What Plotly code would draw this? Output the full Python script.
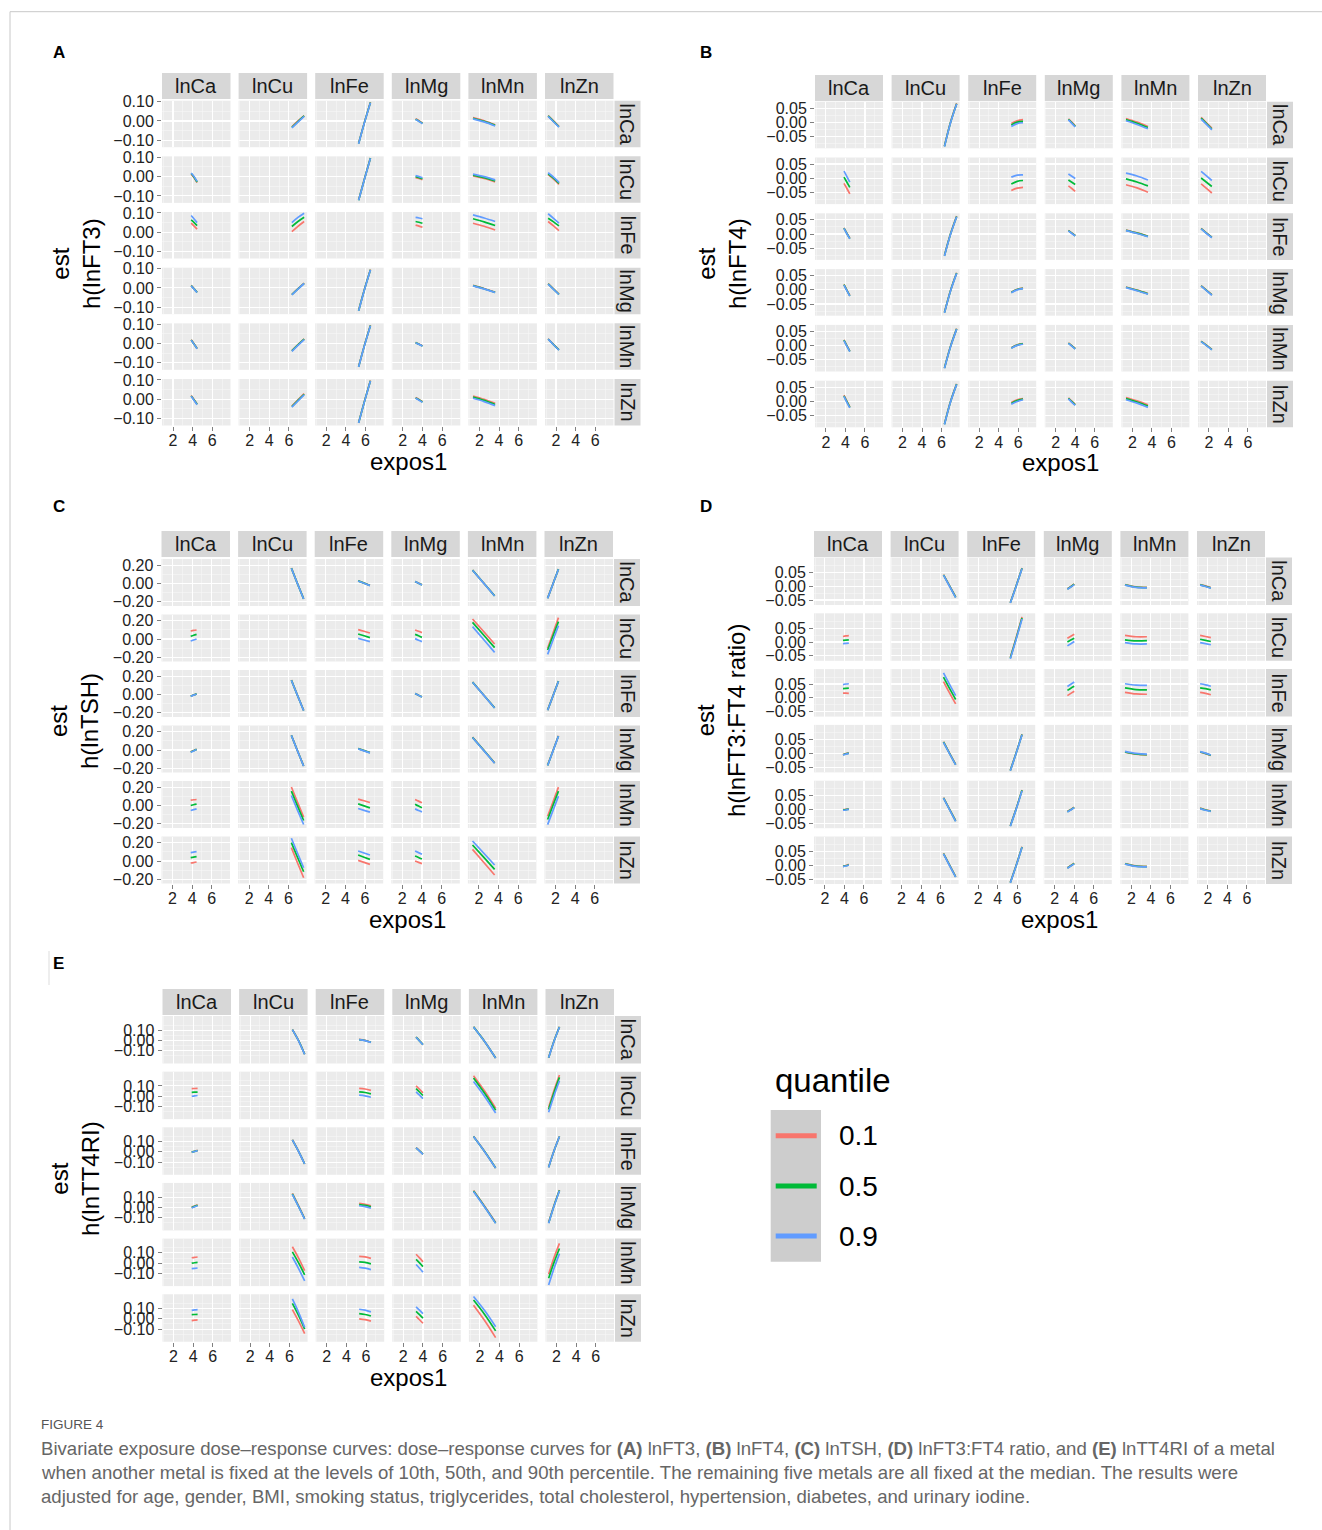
import plotly.graph_objects as go

W, H = 1322, 1530

metals = ["lnCa", "lnCu", "lnFe", "lnMg", "lnMn", "lnZn"]
quantiles = ["0.1", "0.5", "0.9"]
quantile_colors = ["#F8766D", "#00BA38", "#619CFF"]

# expos1 grid (start, middle, end) of each exposure metal (columns)
expos1_lnCa = [3.85, 4.15, 4.45]
expos1_lnCu = [6.30, 6.92, 7.55]
expos1_lnFe = [5.30, 5.90, 6.50]
expos1_lnMg = [3.30, 3.65, 4.00]
expos1_lnMn = [1.35, 2.48, 3.60]
expos1_lnZn = [1.20, 1.75, 2.30]
expos1_grid = [expos1_lnCa, expos1_lnCu, expos1_lnFe, expos1_lnMg, expos1_lnMn, expos1_lnZn]

x_tick_vals = [2, 4, 6]
x_tick_text = ["2", "4", "6"]
x_minor_vals = [1, 3, 5, 7]

# Each row = metal fixed at quantile (expos2); each cell = [q0.1, q0.5, q0.9] curves, each [start, mid, end]
# ---------------- A: h(lnFT3) ----------------
FT3_lnCa = [None,
            [[-0.030, 0.000, 0.028], [-0.033, -0.003, 0.026], [-0.036, -0.006, 0.024]],
            [[-0.116, -0.005, 0.097], [-0.117, -0.006, 0.096], [-0.118, -0.007, 0.095]],
            [[0.011, 0.001, -0.010], [0.009, -0.001, -0.012], [0.007, -0.003, -0.014]],
            [[0.017, 0.001, -0.020], [0.014, -0.002, -0.023], [0.011, -0.005, -0.026]],
            [[0.028, 0.000, -0.028], [0.026, -0.002, -0.030], [0.024, -0.004, -0.032]]]
FT3_lnCu = [[[0.013, -0.006, -0.031], [0.016, -0.003, -0.028], [0.019, 0.000, -0.025]],
            None,
            [[-0.121, -0.010, 0.097], [-0.122, -0.011, 0.096], [-0.123, -0.012, 0.095]],
            [[-0.005, -0.010, -0.016], [0.000, -0.005, -0.011], [0.005, 0.000, -0.006]],
            [[0.003, -0.010, -0.027], [0.008, -0.005, -0.022], [0.013, 0.000, -0.017]],
            [[0.010, -0.013, -0.040], [0.015, -0.008, -0.035], [0.020, -0.003, -0.030]]]
FT3_lnFe = [[[0.047, 0.032, 0.016], [0.064, 0.050, 0.035], [0.087, 0.069, 0.050]],
            [[0.003, 0.031, 0.056], [0.030, 0.056, 0.078], [0.050, 0.077, 0.099]],
            None,
            [[0.037, 0.032, 0.026], [0.056, 0.052, 0.047], [0.077, 0.074, 0.070]],
            [[0.047, 0.031, 0.012], [0.070, 0.054, 0.035], [0.090, 0.074, 0.056]],
            [[0.056, 0.033, 0.009], [0.073, 0.054, 0.033], [0.096, 0.072, 0.047]]]
FT3_lnMg = [[[0.013, -0.004, -0.022], [0.012, -0.005, -0.023], [0.011, -0.006, -0.024]],
            [[-0.034, -0.004, 0.025], [-0.035, -0.005, 0.024], [-0.036, -0.006, 0.023]],
            [[-0.117, -0.006, 0.095], [-0.118, -0.007, 0.094], [-0.119, -0.008, 0.093]],
            None,
            [[0.013, -0.003, -0.022], [0.012, -0.004, -0.023], [0.011, -0.005, -0.024]],
            [[0.022, -0.005, -0.032], [0.021, -0.006, -0.033], [0.020, -0.007, -0.034]]]
FT3_lnMn = [[[0.020, -0.002, -0.025], [0.019, -0.003, -0.026], [0.018, -0.004, -0.027]],
            [[-0.036, -0.005, 0.025], [-0.038, -0.007, 0.023], [-0.040, -0.009, 0.021]],
            [[-0.119, -0.007, 0.095], [-0.120, -0.008, 0.094], [-0.121, -0.009, 0.093]],
            [[0.006, -0.002, -0.011], [0.005, -0.003, -0.012], [0.004, -0.004, -0.013]],
            None,
            [[0.025, -0.004, -0.032], [0.024, -0.005, -0.033], [0.023, -0.006, -0.034]]]
FT3_lnZn = [[[0.019, -0.002, -0.024], [0.017, -0.004, -0.026], [0.015, -0.006, -0.028]],
            [[-0.035, -0.003, 0.029], [-0.038, -0.006, 0.026], [-0.041, -0.009, 0.023]],
            [[-0.121, -0.009, 0.097], [-0.122, -0.010, 0.096], [-0.123, -0.011, 0.095]],
            [[0.009, -0.001, -0.012], [0.007, -0.003, -0.014], [0.005, -0.005, -0.016]],
            [[0.017, 0.000, -0.021], [0.011, -0.006, -0.027], [0.005, -0.012, -0.033]],
            None]

# ---------------- B: h(lnFT4) ----------------
FT4_lnCa = [None,
            [[-0.083, 0.001, 0.067], [-0.084, 0.000, 0.066], [-0.085, -0.001, 0.065]],
            [[-0.004, 0.006, 0.010], [-0.009, 0.001, 0.004], [-0.014, -0.004, -0.001]],
            [[0.013, 0.001, -0.012], [0.011, -0.001, -0.014], [0.009, -0.003, -0.016]],
            [[0.014, 0.001, -0.014], [0.010, -0.003, -0.018], [0.006, -0.007, -0.022]],
            [[0.018, -0.001, -0.020], [0.015, -0.004, -0.023], [0.012, -0.007, -0.026]]]
FT4_lnCu = [[[-0.018, -0.036, -0.055], [0.004, -0.014, -0.032], [0.025, 0.006, -0.014]],
            None,
            [[-0.043, -0.035, -0.032], [-0.020, -0.011, -0.008], [0.004, 0.011, 0.012]],
            [[-0.027, -0.036, -0.046], [-0.006, -0.014, -0.022], [0.015, 0.007, -0.001]],
            [[-0.023, -0.034, -0.049], [-0.002, -0.013, -0.027], [0.018, 0.008, -0.006]],
            [[-0.020, -0.036, -0.052], [0.001, -0.014, -0.029], [0.024, 0.008, -0.008]]]
FT4_lnFe = [[[0.022, 0.003, -0.015], [0.021, 0.002, -0.016], [0.020, 0.001, -0.017]],
            [[-0.075, 0.001, 0.063], [-0.076, 0.000, 0.062], [-0.077, -0.001, 0.061]],
            None,
            [[0.013, 0.004, -0.005], [0.012, 0.003, -0.006], [0.011, 0.002, -0.007]],
            [[0.014, 0.004, -0.007], [0.013, 0.003, -0.008], [0.012, 0.002, -0.009]],
            [[0.020, 0.004, -0.011], [0.019, 0.003, -0.012], [0.018, 0.002, -0.013]]]
FT4_lnMg = [[[0.019, -0.001, -0.020], [0.018, -0.002, -0.021], [0.017, -0.003, -0.022]],
            [[-0.079, -0.002, 0.060], [-0.080, -0.003, 0.059], [-0.081, -0.004, 0.058]],
            [[-0.008, 0.002, 0.006], [-0.009, 0.001, 0.005], [-0.010, 0.000, 0.004]],
            None,
            [[0.010, -0.001, -0.013], [0.009, -0.002, -0.014], [0.008, -0.003, -0.015]],
            [[0.015, -0.001, -0.017], [0.014, -0.002, -0.018], [0.013, -0.003, -0.019]]]
FT4_lnMn = [[[0.020, 0.000, -0.019], [0.019, -0.001, -0.020], [0.018, -0.002, -0.021]],
            [[-0.078, -0.002, 0.060], [-0.079, -0.003, 0.059], [-0.080, -0.004, 0.058]],
            [[-0.007, 0.003, 0.007], [-0.008, 0.002, 0.006], [-0.009, 0.001, 0.005]],
            [[0.010, 0.000, -0.010], [0.009, -0.001, -0.011], [0.008, -0.002, -0.012]],
            None,
            [[0.016, 0.002, -0.013], [0.015, 0.001, -0.014], [0.014, 0.000, -0.015]]]
FT4_lnZn = [[[0.022, 0.001, -0.019], [0.020, -0.001, -0.021], [0.018, -0.003, -0.023]],
            [[-0.079, 0.000, 0.062], [-0.080, -0.001, 0.061], [-0.081, -0.002, 0.060]],
            [[-0.004, 0.006, 0.010], [-0.007, 0.003, 0.008], [-0.010, 0.000, 0.006]],
            [[0.013, 0.001, -0.010], [0.011, -0.001, -0.012], [0.009, -0.003, -0.014]],
            [[0.014, 0.002, -0.012], [0.010, -0.002, -0.016], [0.006, -0.006, -0.021]],
            None]

# ---------------- C: h(lnTSH) ----------------
TSH_lnCa = [None,
            [[0.170, 0.000, -0.168], [0.169, -0.001, -0.169], [0.168, -0.002, -0.170]],
            [[0.030, 0.005, -0.021], [0.029, 0.004, -0.022], [0.028, 0.003, -0.023]],
            [[0.023, 0.005, -0.014], [0.022, 0.004, -0.015], [0.021, 0.003, -0.016]],
            [[0.148, 0.006, -0.135], [0.147, 0.005, -0.136], [0.146, 0.004, -0.137]],
            [[-0.161, -0.001, 0.159], [-0.162, -0.002, 0.158], [-0.163, -0.003, 0.157]]]
TSH_lnCu = [[[0.088, 0.094, 0.099], [0.030, 0.041, 0.051], [-0.022, -0.011, 0.000]],
            None,
            [[0.103, 0.085, 0.066], [0.055, 0.035, 0.015], [0.007, -0.011, -0.029]],
            [[0.099, 0.085, 0.070], [0.051, 0.035, 0.018], [0.004, -0.013, -0.029]],
            [[0.220, 0.083, -0.055], [0.183, 0.044, -0.095], [0.136, -0.006, -0.147]],
            [[-0.103, 0.066, 0.235], [-0.121, 0.035, 0.191], [-0.169, -0.011, 0.147]]]
TSH_lnFe = [[[-0.017, -0.005, 0.008], [-0.018, -0.006, 0.007], [-0.019, -0.007, 0.006]],
            [[0.159, -0.008, -0.175], [0.158, -0.009, -0.176], [0.157, -0.010, -0.177]],
            None,
            [[0.012, -0.007, -0.025], [0.011, -0.008, -0.026], [0.010, -0.009, -0.027]],
            [[0.137, -0.005, -0.146], [0.136, -0.006, -0.147], [0.135, -0.007, -0.148]],
            [[-0.171, -0.012, 0.148], [-0.172, -0.013, 0.147], [-0.173, -0.014, 0.146]]]
TSH_lnMg = [[[-0.020, -0.006, 0.009], [-0.022, -0.008, 0.007], [-0.024, -0.010, 0.005]],
            [[0.162, -0.007, -0.175], [0.161, -0.008, -0.176], [0.160, -0.009, -0.177]],
            [[0.017, -0.005, -0.027], [0.015, -0.007, -0.029], [0.013, -0.009, -0.031]],
            None,
            [[0.141, 0.000, -0.141], [0.139, -0.002, -0.143], [0.137, -0.004, -0.145]],
            [[-0.167, -0.006, 0.156], [-0.169, -0.008, 0.154], [-0.171, -0.010, 0.152]]]
TSH_lnMn = [[[0.059, 0.063, 0.066], [0.000, 0.008, 0.015], [-0.055, -0.046, -0.037]],
            [[0.203, 0.038, -0.128], [0.158, -0.004, -0.165], [0.110, -0.050, -0.209]],
            [[0.070, 0.052, 0.033], [0.018, -0.004, -0.026], [-0.033, -0.053, -0.073]],
            [[0.066, 0.048, 0.029], [0.015, -0.006, -0.026], [-0.037, -0.054, -0.070]],
            None,
            [[-0.118, 0.042, 0.202], [-0.154, 0.002, 0.158], [-0.210, -0.054, 0.103]]]
TSH_lnZn = [[[-0.022, -0.017, -0.011], [0.037, 0.043, 0.048], [0.092, 0.098, 0.103]],
            [[0.147, -0.019, -0.184], [0.202, 0.042, -0.118], [0.250, 0.088, -0.074]],
            [[0.007, -0.015, -0.037], [0.066, 0.042, 0.018], [0.110, 0.088, 0.066]],
            [[0.000, -0.015, -0.029], [0.055, 0.039, 0.022], [0.110, 0.092, 0.074]],
            [[0.128, -0.013, -0.154], [0.176, 0.042, -0.092], [0.220, 0.088, -0.044]],
            None]

# ---------------- D: h(lnFT3:FT4 ratio) ----------------
RATIO_lnCa = [None,
              [[0.042, 0.002, -0.039], [0.041, 0.001, -0.040], [0.040, 0.000, -0.041]],
              [[-0.059, 0.002, 0.066], [-0.060, 0.001, 0.065], [-0.061, 0.000, 0.064]],
              [[-0.009, -0.001, 0.008], [-0.010, -0.002, 0.007], [-0.011, -0.003, 0.006]],
              [[0.006, -0.002, -0.004], [0.005, -0.003, -0.005], [0.004, -0.004, -0.006]],
              [[0.006, 0.001, -0.005], [0.005, 0.000, -0.006], [0.004, -0.001, -0.007]]]
RATIO_lnCu = [[[0.020, 0.022, 0.023], [0.006, 0.007, 0.008], [-0.006, -0.005, -0.004]],
              None,
              [[-0.056, 0.016, 0.091], [-0.058, 0.013, 0.087], [-0.061, 0.010, 0.083]],
              [[0.014, 0.021, 0.028], [0.000, 0.007, 0.014], [-0.014, -0.006, 0.002]],
              [[0.024, 0.019, 0.019], [0.008, 0.004, 0.005], [-0.002, -0.007, -0.007]],
              [[0.024, 0.020, 0.016], [0.010, 0.006, 0.002], [-0.002, -0.006, -0.010]]]
RATIO_lnFe = [[[0.017, 0.017, 0.016], [0.033, 0.034, 0.035], [0.048, 0.050, 0.051]],
              [[0.059, 0.018, -0.022], [0.075, 0.034, -0.006], [0.090, 0.049, 0.008]],
              None,
              [[0.008, 0.016, 0.024], [0.027, 0.035, 0.042], [0.041, 0.049, 0.057]],
              [[0.020, 0.014, 0.013], [0.036, 0.030, 0.029], [0.051, 0.046, 0.045]],
              [[0.020, 0.016, 0.011], [0.036, 0.033, 0.029], [0.051, 0.047, 0.042]]]
RATIO_lnMg = [[[-0.003, 0.000, 0.003], [-0.004, -0.001, 0.002], [-0.005, -0.002, 0.001]],
              [[0.043, 0.002, -0.039], [0.042, 0.001, -0.040], [0.041, 0.000, -0.041]],
              [[-0.060, 0.003, 0.070], [-0.061, 0.002, 0.069], [-0.062, 0.001, 0.068]],
              None,
              [[0.005, -0.002, -0.005], [0.006, -0.001, -0.004], [0.008, 0.001, -0.002]],
              [[0.005, 0.000, -0.007], [0.006, 0.001, -0.006], [0.007, 0.002, -0.005]]]
RATIO_lnMn = [[[-0.001, 0.000, 0.002], [-0.002, -0.001, 0.001], [-0.003, -0.002, 0.000]],
              [[0.043, 0.001, -0.041], [0.042, 0.000, -0.042], [0.041, -0.001, -0.043]],
              [[-0.059, 0.003, 0.070], [-0.060, 0.002, 0.069], [-0.061, 0.001, 0.068]],
              [[-0.007, 0.000, 0.008], [-0.008, -0.001, 0.007], [-0.009, -0.002, 0.006]],
              None,
              [[0.005, -0.001, -0.005], [0.004, -0.002, -0.006], [0.003, -0.003, -0.007]]]
RATIO_lnZn = [[[-0.003, -0.001, 0.003], [-0.004, -0.002, 0.002], [-0.005, -0.003, 0.001]],
              [[0.043, 0.001, -0.041], [0.042, 0.000, -0.042], [0.041, -0.001, -0.043]],
              [[-0.062, 0.000, 0.067], [-0.063, -0.001, 0.066], [-0.064, -0.002, 0.065]],
              [[-0.009, -0.001, 0.007], [-0.010, -0.002, 0.006], [-0.011, -0.003, 0.005]],
              [[0.006, -0.002, -0.004], [0.005, -0.003, -0.005], [0.004, -0.004, -0.006]],
              None]

# ---------------- E: h(lnTT4RI) ----------------
TT4RI_lnCa = [None,
              [[0.108, 0.002, -0.132], [0.107, 0.001, -0.133], [0.106, 0.000, -0.134]],
              [[0.011, 0.002, -0.016], [0.010, 0.001, -0.017], [0.009, 0.000, -0.018]],
              [[0.034, -0.002, -0.039], [0.033, -0.003, -0.040], [0.032, -0.004, -0.041]],
              [[0.134, -0.008, -0.169], [0.133, -0.009, -0.170], [0.132, -0.010, -0.171]],
              [[-0.166, -0.004, 0.134], [-0.167, -0.005, 0.133], [-0.168, -0.006, 0.132]]]
TT4RI_lnCu = [[[0.073, 0.075, 0.077], [0.037, 0.039, 0.040], [0.000, 0.004, 0.007]],
              None,
              [[0.077, 0.070, 0.057], [0.043, 0.036, 0.023], [0.010, 0.003, -0.010]],
              [[0.100, 0.068, 0.033], [0.073, 0.041, 0.007], [0.043, 0.011, -0.023]],
              [[0.200, 0.050, -0.117], [0.177, 0.028, -0.137], [0.143, -0.002, -0.163]],
              [[-0.110, 0.058, 0.207], [-0.130, 0.036, 0.183], [-0.157, 0.005, 0.150]]]
TT4RI_lnFe = [[[-0.002, 0.006, 0.014], [-0.003, 0.005, 0.013], [-0.004, 0.004, 0.012]],
              [[0.118, 0.008, -0.116], [0.117, 0.007, -0.117], [0.116, 0.006, -0.118]],
              None,
              [[0.041, 0.010, -0.022], [0.040, 0.009, -0.023], [0.039, 0.008, -0.024]],
              [[0.151, 0.004, -0.156], [0.150, 0.003, -0.157], [0.149, 0.002, -0.158]],
              [[-0.149, 0.012, 0.151], [-0.150, 0.011, 0.150], [-0.151, 0.010, 0.149]]]
TT4RI_lnMg = [[[0.004, 0.015, 0.026], [0.000, 0.011, 0.022], [-0.004, 0.007, 0.018]],
              [[0.137, 0.018, -0.107], [0.133, 0.014, -0.110], [0.129, 0.010, -0.113]],
              [[0.040, 0.032, 0.017], [0.029, 0.021, 0.006], [0.017, 0.009, -0.007]],
              None,
              [[0.165, 0.012, -0.146], [0.160, 0.008, -0.150], [0.155, 0.004, -0.154]],
              [[-0.146, 0.022, 0.171], [-0.150, 0.018, 0.167], [-0.154, 0.014, 0.163]]]
TT4RI_lnMn = [[[0.053, 0.057, 0.060], [0.000, 0.004, 0.007], [-0.053, -0.050, -0.047]],
              [[0.160, 0.052, -0.073], [0.110, 0.005, -0.113], [0.060, -0.050, -0.173]],
              [[0.067, 0.061, 0.047], [0.013, 0.007, -0.007], [-0.040, -0.048, -0.063]],
              [[0.087, 0.051, 0.013], [0.037, 0.003, -0.033], [-0.013, -0.049, -0.087]],
              None,
              [[-0.107, 0.055, 0.193], [-0.147, 0.008, 0.143], [-0.213, -0.050, 0.093]]]
TT4RI_lnZn = [[[-0.017, -0.013, -0.010], [0.040, 0.042, 0.043], [0.083, 0.087, 0.090]],
              [[0.090, -0.020, -0.143], [0.150, 0.035, -0.100], [0.193, 0.065, -0.083]],
              [[0.000, -0.008, -0.023], [0.050, 0.042, 0.027], [0.093, 0.084, 0.067]],
              [[0.023, -0.009, -0.043], [0.073, 0.041, 0.007], [0.117, 0.085, 0.050]],
              [[0.133, -0.016, -0.183], [0.183, 0.043, -0.117], [0.217, 0.080, -0.077]],
              None]

# y-axis ticks per outcome
FT3_yticks, FT3_ytext, FT3_yminor = [-0.1, 0, 0.1], ["\u22120.10", "0.00", "0.10"], [-0.05, 0.05]
FT4_yticks, FT4_ytext, FT4_yminor = [-0.05, 0, 0.05], ["\u22120.05", "0.00", "0.05"], [-0.075, -0.025, 0.025]
TSH_yticks, TSH_ytext, TSH_yminor = [-0.2, 0, 0.2], ["\u22120.20", "0.00", "0.20"], [-0.1, 0.1]
RATIO_yticks, RATIO_ytext, RATIO_yminor = [-0.05, 0, 0.05], ["\u22120.05", "0.00", "0.05"], [-0.025, 0.025, 0.075]
TT4RI_yticks, TT4RI_ytext, TT4RI_yminor = [-0.1, 0, 0.1], ["\u22120.10", "0.00", "0.10"], [-0.15, -0.05, 0.05, 0.15]

FONT = "Liberation Sans, Arial, Helvetica, sans-serif"
PANEL_BG = "#EBEBEB"
STRIP_BG = "#D7D7D7"
XRANGE = [0.88, 7.85]
COL_STEP = 76.6
STRIP_H = 26

panels = [
    dict(label="A", rows=[FT3_lnCa, FT3_lnCu, FT3_lnFe, FT3_lnMg, FT3_lnMn, FT3_lnZn],
         ytitle="est<br>h(lnFT3)", yrange=[-0.136, 0.105],
         yt=FT3_yticks, ytt=FT3_ytext, ym=FT3_yminor,
         x0=162, cw=68.5, y0=100.7, rstep=55.66, rh=46.5, strip_top=73,
         lab=(59, 53), xt=(408, 461), yt_xy=(76, 264)),
    dict(label="B", rows=[FT4_lnCa, FT4_lnCu, FT4_lnFe, FT4_lnMg, FT4_lnMn, FT4_lnZn],
         ytitle="est<br>h(lnFT4)", yrange=[-0.091, 0.073],
         yt=FT4_yticks, ytt=FT4_ytext, ym=FT4_yminor,
         x0=815, cw=68, y0=101.7, rstep=55.8, rh=46.6, strip_top=75,
         lab=(706, 53), xt=(1060, 462), yt_xy=(722, 264)),
    dict(label="C", rows=[TSH_lnCa, TSH_lnCu, TSH_lnFe, TSH_lnMg, TSH_lnMn, TSH_lnZn],
         ytitle="est<br>h(lnTSH)", yrange=[-0.247, 0.269],
         yt=TSH_yticks, ytt=TSH_ytext, ym=TSH_yminor,
         x0=161.5, cw=68.5, y0=559, rstep=55.5, rh=47, strip_top=531,
         lab=(59, 507), xt=(407, 919), yt_xy=(74, 721)),
    dict(label="D", rows=[RATIO_lnCa, RATIO_lnCu, RATIO_lnFe, RATIO_lnMg, RATIO_lnMn, RATIO_lnZn],
         ytitle="est<br>h(lnFT3:FT4 ratio)", yrange=[-0.068, 0.104],
         yt=RATIO_yticks, ytt=RATIO_ytext, ym=RATIO_yminor,
         x0=814, cw=68, y0=557.5, rstep=55.8, rh=47.5, strip_top=531,
         lab=(706, 507), xt=(1059, 919), yt_xy=(721, 721)),
    dict(label="E", rows=[TT4RI_lnCa, TT4RI_lnCu, TT4RI_lnFe, TT4RI_lnMg, TT4RI_lnMn, TT4RI_lnZn],
         ytitle="est<br>h(lnTT4RI)", yrange=[-0.223, 0.239],
         yt=TT4RI_yticks, ytt=TT4RI_ytext, ym=TT4RI_yminor,
         x0=162.5, cw=68.5, y0=1016, rstep=55.65, rh=47.5, strip_top=989,
         lab=(58, 963), xt=(408, 1377), yt_xy=(75, 1179)),
]


def fx(p):
    return p / W


def fy(p):
    return 1 - p / H


fig = go.Figure()
shapes, annotations, axes = [], [], {}
k = 0
for P in panels:
    for r in range(6):
        top = P["y0"] + r * P["rstep"]
        bot = top + P["rh"]
        for c in range(6):
            k += 1
            left = P["x0"] + c * COL_STEP
            right = left + P["cw"]
            xn = "xaxis" if k == 1 else f"xaxis{k}"
            yn = "yaxis" if k == 1 else f"yaxis{k}"
            xr = "x" if k == 1 else f"x{k}"
            yr = "y" if k == 1 else f"y{k}"
            axes[xn] = dict(domain=[fx(left), fx(right)], range=XRANGE, anchor=yr, automargin=False,
                            tickmode="array", tickvals=x_tick_vals, ticktext=x_tick_text,
                            showticklabels=(r == 5), ticks="outside" if r == 5 else "",
                            ticklen=4, tickwidth=1, tickcolor="#808080", ticklabelstandoff=-4,
                            tickfont=dict(family=FONT, size=16, color="#222222"),
                            showgrid=True, gridcolor="#FFFFFF", gridwidth=1.1,
                            minor=dict(tickmode="array", tickvals=x_minor_vals, showgrid=True,
                                       gridcolor="#F6F6F6", gridwidth=0.6, ticks=""),
                            zeroline=False, showline=False, fixedrange=True)
            axes[yn] = dict(domain=[fy(bot), fy(top)], range=P["yrange"], anchor=xr, automargin=False,
                            tickmode="array", tickvals=P["yt"], ticktext=P["ytt"],
                            showticklabels=(c == 0), ticks="outside" if c == 0 else "",
                            ticklen=4, tickwidth=1, tickcolor="#808080",
                            tickfont=dict(family=FONT, size=16, color="#222222"),
                            showgrid=True, gridcolor="#FFFFFF", gridwidth=1.1,
                            minor=dict(tickmode="array", tickvals=P["ym"], showgrid=True,
                                       gridcolor="#F6F6F6", gridwidth=0.6, ticks=""),
                            zeroline=False, showline=False, fixedrange=True)
            cell = P["rows"][r][c]
            if cell is None:
                fig.add_trace(go.Scatter(x=[None], y=[None], xaxis=xr, yaxis=yr, mode="lines",
                                         showlegend=False, hoverinfo="skip"))
            else:
                for qi in range(3):
                    fig.add_trace(go.Scatter(
                        x=expos1_grid[c], y=cell[qi], xaxis=xr, yaxis=yr, mode="lines",
                        line=dict(color=quantile_colors[qi], width=1.7, shape="spline", smoothing=1),
                        name=quantiles[qi], showlegend=False, hoverinfo="skip"))
            # column strips (top)
            if r == 0:
                shapes.append(dict(type="rect", xref="paper", yref="paper", layer="below",
                                   x0=fx(left), x1=fx(right),
                                   y0=fy(P["strip_top"] + STRIP_H), y1=fy(P["strip_top"]),
                                   fillcolor=STRIP_BG, line=dict(width=0)))
                annotations.append(dict(text=metals[c], xref="paper", yref="paper",
                                        x=fx((left + right) / 2), y=fy(P["strip_top"] + STRIP_H / 2),
                                        showarrow=False, xanchor="center", yanchor="middle",
                                        font=dict(family=FONT, size=20, color="#1A1A1A")))
            # row strips (right)
            if c == 5:
                sx0 = right + 1
                shapes.append(dict(type="rect", xref="paper", yref="paper", layer="below",
                                   x0=fx(sx0), x1=fx(sx0 + STRIP_H), y0=fy(bot), y1=fy(top),
                                   fillcolor=STRIP_BG, line=dict(width=0)))
                annotations.append(dict(text=metals[r], xref="paper", yref="paper",
                                        x=fx(sx0 + STRIP_H / 2), y=fy((top + bot) / 2),
                                        showarrow=False, textangle=90,
                                        xanchor="center", yanchor="middle",
                                        font=dict(family=FONT, size=20, color="#1A1A1A")))
    # panel letter
    annotations.append(dict(text=f"<b>{P['label']}</b>", xref="paper", yref="paper",
                            x=fx(P["lab"][0]), y=fy(P["lab"][1]), showarrow=False,
                            xanchor="center", yanchor="middle",
                            font=dict(family=FONT, size=17, color="#000000")))
    # axis titles
    annotations.append(dict(text="expos1", xref="paper", yref="paper",
                            x=fx(P["xt"][0]), y=fy(P["xt"][1]), showarrow=False,
                            xanchor="center", yanchor="middle",
                            font=dict(family=FONT, size=24, color="#000000")))
    annotations.append(dict(text=P["ytitle"], xref="paper", yref="paper",
                            x=fx(P["yt_xy"][0]), y=fy(P["yt_xy"][1]), showarrow=False,
                            textangle=-90, xanchor="center", yanchor="middle",
                            font=dict(family=FONT, size=24, color="#000000")))

# legend (quantile)
annotations.append(dict(text="quantile", xref="paper", yref="paper", x=fx(773), y=fy(1080),
                        showarrow=False, xanchor="left", yanchor="middle",
                        font=dict(family=FONT, size=33, color="#000000")))
shapes.append(dict(type="rect", xref="paper", yref="paper", x0=fx(770.7), x1=fx(821),
                   y0=fy(1261.7), y1=fy(1110), fillcolor="#CDCDCD", line=dict(width=0)))
legend_y = [1135.7, 1186, 1236]
for qi in range(3):
    shapes.append(dict(type="line", xref="paper", yref="paper", x0=fx(775.7), x1=fx(816.7),
                       y0=fy(legend_y[qi]), y1=fy(legend_y[qi]),
                       line=dict(color=quantile_colors[qi], width=5)))
    annotations.append(dict(text=quantiles[qi], xref="paper", yref="paper",
                            x=fx(837), y=fy(legend_y[qi]), showarrow=False,
                            xanchor="left", yanchor="middle",
                            font=dict(family=FONT, size=28, color="#000000")))

# frame lines
shapes.append(dict(type="line", xref="paper", yref="paper", x0=fx(10), x1=1, y0=fy(11.7), y1=fy(11.7),
                   line=dict(color="#C8C8C8", width=1)))
shapes.append(dict(type="line", xref="paper", yref="paper", x0=fx(10), x1=fx(10), y0=fy(11.7), y1=0,
                   line=dict(color="#C8C8C8", width=1)))
shapes.append(dict(type="line", xref="paper", yref="paper", x0=fx(49), x1=fx(49), y0=fy(951), y1=fy(985),
                   line=dict(color="#DDDDDD", width=1)))

# caption
CAP = "#666666"
annotations.append(dict(text="FIGURE 4", xref="paper", yref="paper", x=fx(39), y=fy(1424),
                        showarrow=False, xanchor="left", yanchor="middle",
                        font=dict(family=FONT, size=13.5, color="#555555")))
caption_lines = [
    "Bivariate exposure dose\u2013response curves: dose\u2013response curves for <b>(A)</b> lnFT3, "
    "<b>(B)</b> lnFT4, <b>(C)</b> lnTSH, <b>(D)</b> lnFT3:FT4 ratio, and <b>(E)</b> lnTT4RI of a metal",
    "when another metal is fixed at the levels of 10th, 50th, and 90th percentile. The remaining five "
    "metals are all fixed at the median. The results were",
    "adjusted for age, gender, BMI, smoking status, triglycerides, total cholesterol, hypertension, "
    "diabetes, and urinary iodine.",
]
caption_y = [1448, 1472, 1496]
for line, yy in zip(caption_lines, caption_y):
    annotations.append(dict(text=line, xref="paper", yref="paper", x=fx(39), y=fy(yy),
                            showarrow=False, xanchor="left", yanchor="middle",
                            font=dict(family=FONT, size=18.6, color=CAP)))

fig.update_layout(template="none", width=W, height=H,
                  margin=dict(l=0, r=0, t=0, b=0, pad=0, autoexpand=False),
                  paper_bgcolor="#FFFFFF", plot_bgcolor=PANEL_BG, showlegend=False,
                  shapes=shapes, annotations=annotations, **axes)

fig.write_html("out.html", config={"displayModeBar": False, "staticPlot": True},
               post_script=("document.documentElement.style.margin='0px';"
                            "document.body.style.margin='0px';document.body.style.padding='0px';"
                            "document.body.style.overflow='hidden';"
                            "var gd=document.getElementById('{plot_id}');"
                            "gd.style.position='fixed';gd.style.left='0px';gd.style.top='0px';"))
